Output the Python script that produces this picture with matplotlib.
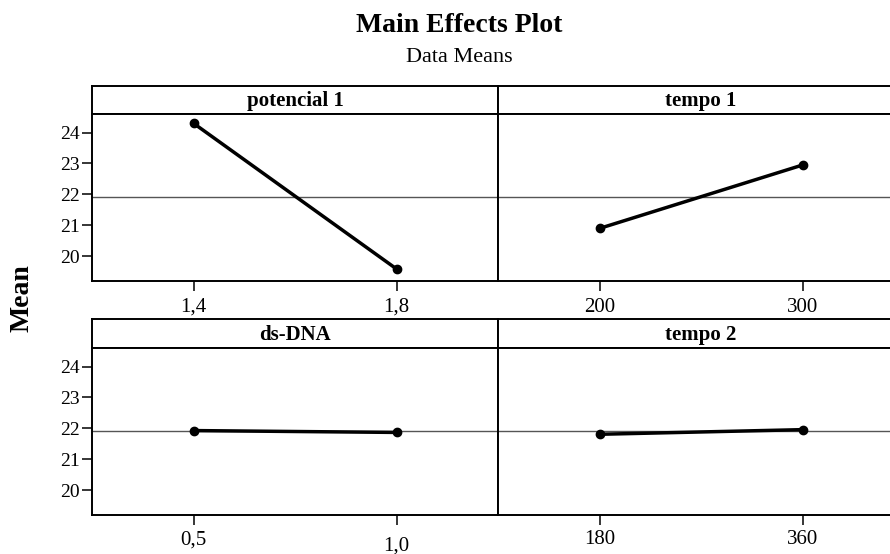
import matplotlib
matplotlib.use("Agg")
import matplotlib.pyplot as plt
import matplotlib.transforms as mtransforms

plt.rcParams['font.family'] = ['Liberation Serif', 'DejaVu Serif']

# factor names, levels and the mean response at each level
factors = ['potencial 1', 'tempo 1', 'ds-DNA', 'tempo 2']
levels = [['1,4', '1,8'], ['200', '300'], ['0,5', '1,0'], ['180', '360']]
means = [[24.30, 19.59], [20.90, 22.95], [21.93, 21.87], [21.81, 21.96]]
grand_mean = 21.91
y_ticks = [20, 21, 22, 23, 24]

W, H = 890, 554
fig = plt.figure(figsize=(W / 100, H / 100), dpi=100)


def px_axes(x0, y0, x1, y1):
    # axes from pixel box (top-left origin)
    return fig.add_axes([x0 / W, 1 - y1 / H, (x1 - x0) / W, (y1 - y0) / H])


col_x = [(92, 498), (498, 904)]
row_y = [(86, 114, 281), (319, 348, 515)]

for i, name in enumerate(factors):
    r, c = divmod(i, 2)
    x0, x1 = col_x[c]
    top, strip_bot, bot = row_y[r]

    # strip with factor name
    sax = px_axes(x0, top, x1, strip_bot)
    sax.set_xticks([])
    sax.set_yticks([])
    for sp in sax.spines.values():
        sp.set_linewidth(1.4)
    sax.text(0.5, 0.45, name, transform=sax.transAxes, ha='center', va='center',
             fontsize=15, fontweight='bold')

    ax = px_axes(x0, strip_bot, x1, bot)
    for sp in ax.spines.values():
        sp.set_linewidth(1.4)
    ax.axhline(grand_mean, color='#555555', lw=1.0, zorder=1)
    xs = list(range(len(levels[i])))
    ax.plot(xs, means[i], color='black', lw=2.5, marker='o', ms=6, zorder=3)
    ax.set_xlim(-0.5, 1.5)
    ax.set_ylim(19.2, 24.6)
    ax.set_xticks(xs)
    ax.set_xticklabels(levels[i])
    ax.set_yticks(y_ticks)
    ax.tick_params(direction='out', length=7, width=1.1)
    ax.tick_params(axis='x', labelsize=15, pad=4 if r == 1 else 5)
    ax.tick_params(axis='y', labelsize=14, pad=2)
    if c == 0:
        ax.set_yticklabels([str(v) for v in y_ticks])
    else:
        ax.tick_params(axis='y', left=False, labelleft=False)
    if name == 'ds-DNA':
        lab = ax.get_xticklabels()[1]
        lab.set_transform(lab.get_transform() + mtransforms.ScaledTranslation(0, -6 / 100, fig.dpi_scale_trans))

fig.text(459 / W, 1 - 25 / H, 'Main Effects Plot', ha='center', va='center',
         fontsize=20, fontweight='bold')
fig.text(459 / W, 1 - 58 / H, 'Data Means', ha='center', va='center', fontsize=16)
fig.text(22 / W, 1 - 298 / H, 'Mean', ha='center', va='center', rotation=90,
         fontsize=20, fontweight='bold')

fig.savefig('out.png', dpi=100)
